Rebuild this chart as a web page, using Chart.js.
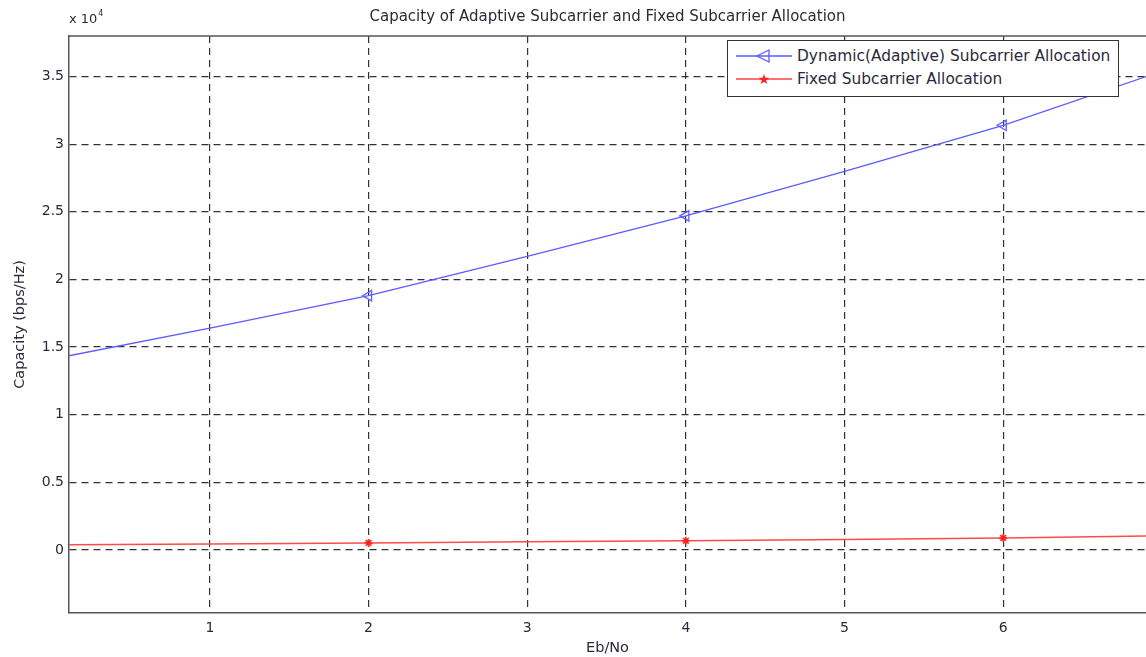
<!DOCTYPE html>
<html>
<head>
<meta charset="utf-8">
<script src="https://cdn.jsdelivr.net/npm/chart.js@4.4.1/dist/chart.umd.min.js"></script>
<style>
  html, body { margin: 0; padding: 0; background: #fff; }
  #wrap { position: relative; width: 1146px; height: 657px; overflow: hidden; }
  #legend { position: absolute; left: 727px; top: 40px; width: 390px; height: 55px;
    border: 1px solid #333; background: #fff; font-family: "DejaVu Sans", sans-serif;
    font-size: 15.4px; color: #2a2a3a; }
  .row { position: absolute; left: 0; height: 22px; display: flex; align-items: center; white-space: nowrap; }
  .row svg { margin-left: 8px; margin-right: 5px; }
</style>
</head>
<body>
<div id="wrap">
  <canvas id="c" width="1146" height="657"></canvas>
  <div id="legend">
    <div class="row" style="top:4px"><svg width="56" height="20"><line x1="0" y1="10" x2="56" y2="10" stroke="#5b5bff" stroke-width="1.3"/><polygon points="21,10 33,4 33,16" fill="none" stroke="#5b5bff" stroke-width="1.3"/></svg><span id="l0"></span></div>
    <div class="row" style="top:27px"><svg width="56" height="20"><line x1="0" y1="10" x2="56" y2="10" stroke="#ff4040" stroke-width="1.3"/><text x="28" y="15" font-size="14" fill="#ff2020" text-anchor="middle">★</text></svg><span id="l1"></span></div>
  </div>
</div>
<script>
// Data
const ebNo = [0, 1, 2, 3, 4, 5, 6, 7];
const adaptiveCapacity = [14100, 16400, 18800, 21700, 24700, 28000, 31400, 35400];
const fixedCapacity = [380, 450, 520, 600, 680, 780, 890, 1050];
const markerIdx = [2, 4, 6];
const xTicks = [1, 2, 3, 4, 5, 6];
const yTicks = [0, 5000, 10000, 15000, 20000, 25000, 30000, 35000];
const seriesNames = ["Dynamic(Adaptive) Subcarrier Allocation", "Fixed Subcarrier Allocation"];
const titleText = "Capacity of Adaptive Subcarrier and Fixed Subcarrier Allocation";
const xLabel = "Eb/No";
const yLabel = "Capacity (bps/Hz)";
const expLabel = "x 10";
const expPow = "4";

document.getElementById('l0').textContent = seriesNames[0];
document.getElementById('l1').textContent = seriesNames[1];

const FONT = "'DejaVu Sans', sans-serif";
const TXT = '#2a2a3a';

const toPts = arr => ebNo.map((x, i) => ({x, y: arr[i]}));
const radii = r => ebNo.map((_, i) => markerIdx.includes(i) ? r : 0);

const frame = {
  id: 'frame',
  afterDraw(chart) {
    const {ctx, chartArea: a} = chart;
    ctx.save();
    ctx.strokeStyle = '#555';
    ctx.lineWidth = 1.5;
    ctx.beginPath();
    ctx.moveTo(a.left, a.top); ctx.lineTo(a.right, a.top);
    ctx.stroke();
    ctx.fillStyle = TXT;
    ctx.font = "13px " + FONT;
    ctx.textBaseline = 'alphabetic';
    ctx.fillText(expLabel, a.left, a.top - 13);
    const w = ctx.measureText(expLabel).width;
    ctx.font = "8px " + FONT;
    ctx.fillText(expPow, a.left + w + 1, a.top - 20);
    ctx.restore();
  }
};

new Chart(document.getElementById('c'), {
  type: 'line',
  data: {
    datasets: [
      {
        label: seriesNames[0],
        data: toPts(adaptiveCapacity),
        borderColor: '#5b5bff',
        borderWidth: 1.3,
        pointRadius: radii(6),
        pointStyle: 'triangle',
        rotation: 270,
        pointBackgroundColor: 'rgba(0,0,0,0)',
        pointBorderColor: '#5b5bff',
        pointBorderWidth: 1.3,
        tension: 0
      },
      {
        label: seriesNames[1],
        data: toPts(fixedCapacity),
        borderColor: '#ff4a4a',
        borderWidth: 1.5,
        pointRadius: radii(4),
        pointStyle: 'star',
        pointBorderColor: '#ff2020',
        pointBorderWidth: 1.6,
        tension: 0
      }
    ]
  },
  options: {
    responsive: false,
    animation: false,
    layout: { padding: { left: 0, right: 0, top: 0, bottom: 0 } },
    plugins: {
      legend: { display: false },
      tooltip: { enabled: false },
      title: {
        display: true,
        text: titleText,
        fullSize: false,
        color: TXT,
        font: { family: FONT, size: 15, weight: 'normal' },
        padding: { top: 8, bottom: 10 }
      }
    },
    scales: {
      x: {
        type: 'linear',
        min: 0.112,
        max: 6.9,
        afterBuildTicks: s => { s.ticks = xTicks.map(v => ({value: v})); },
        afterFit: s => { s.height = 44; },
        ticks: { color: TXT, font: { family: FONT, size: 14 }, padding: 7, maxRotation: 0 },
        grid: { color: '#333', lineWidth: 1.2, drawTicks: false },
        border: { color: '#555', width: 1.5, dash: [7, 5] },
        title: { display: true, text: xLabel, color: TXT, font: { family: FONT, size: 14.5 }, padding: { top: 0, bottom: 0 } }
      },
      y: {
        type: 'linear',
        min: -4660,
        max: 38000,
        afterBuildTicks: s => { s.ticks = yTicks.map(v => ({value: v})); },
        afterFit: s => { s.width = 69; },
        ticks: { color: TXT, font: { family: FONT, size: 14 }, padding: 5, callback: v => String(v / 10000) },
        grid: { color: '#333', lineWidth: 1.2, drawTicks: false },
        border: { color: '#555', width: 1.5, dash: [7, 5] },
        title: { display: true, text: yLabel, color: TXT, font: { family: FONT, size: 14.5 }, padding: { top: 12, bottom: 0 } }
      }
    }
  },
  plugins: [frame]
});
</script>
</body>
</html>
